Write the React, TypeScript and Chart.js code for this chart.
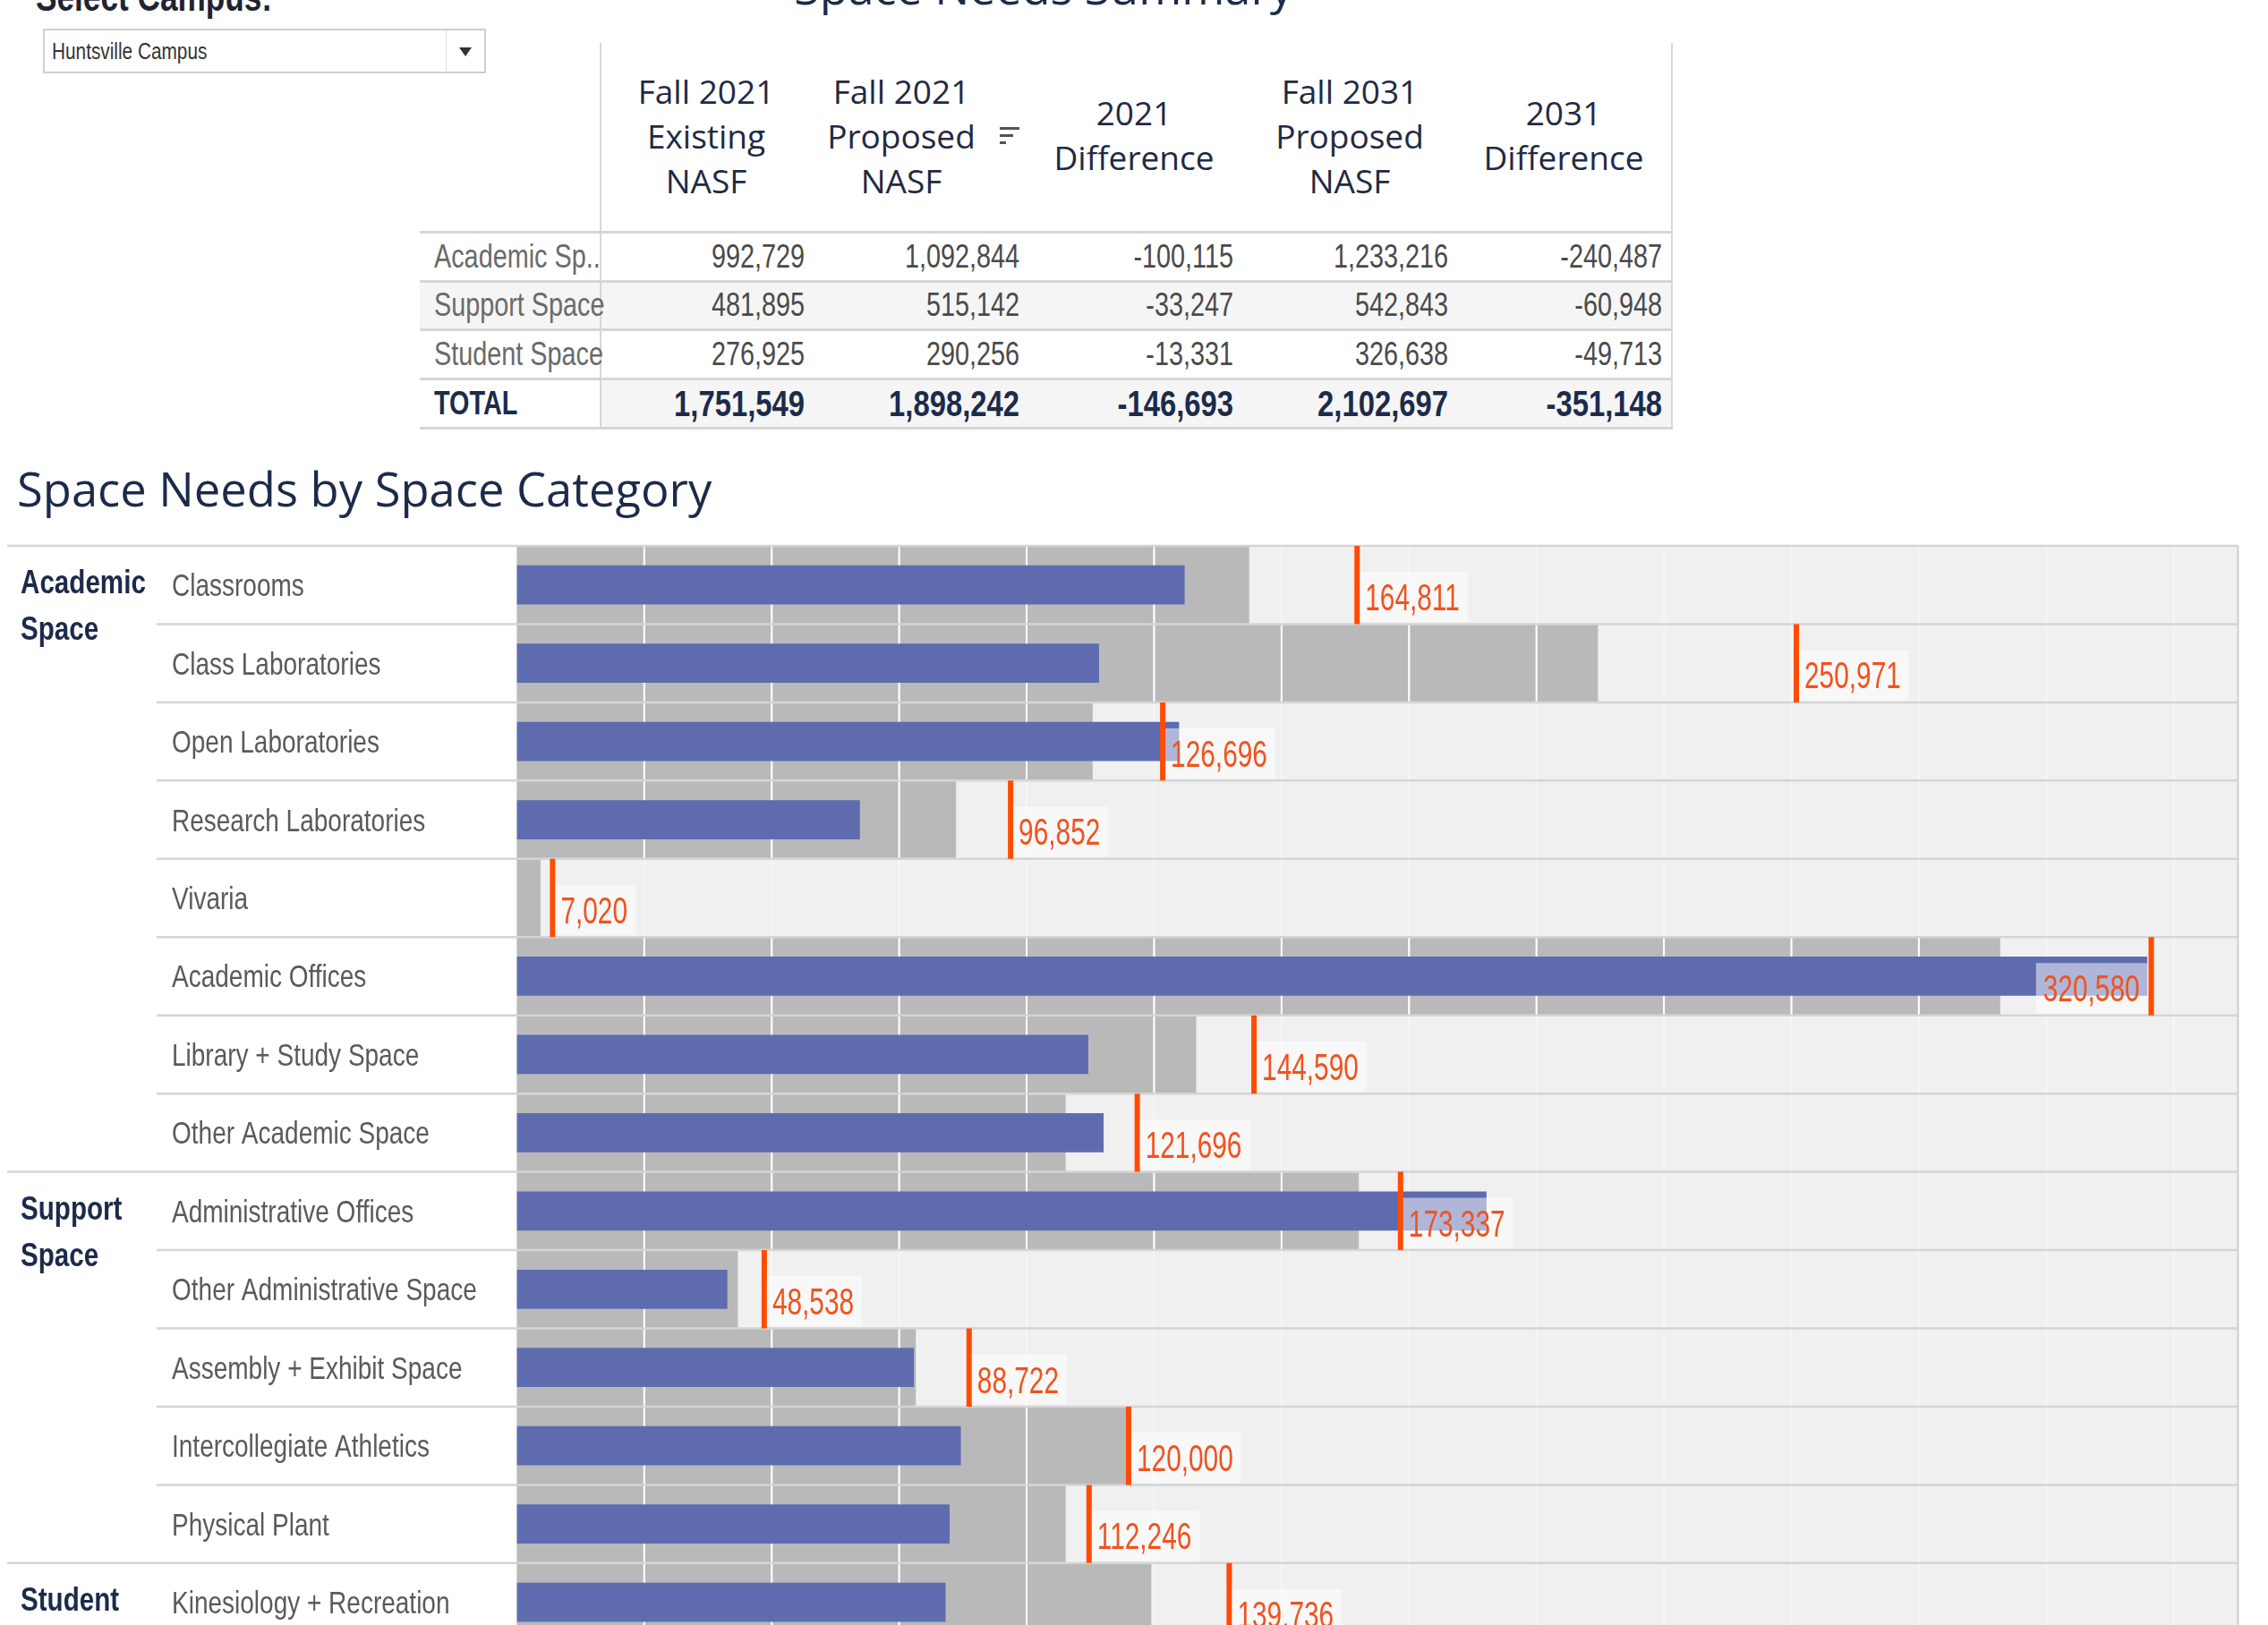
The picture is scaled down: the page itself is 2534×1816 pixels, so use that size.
import React, { useEffect, useRef } from 'react';
import { Chart, registerables } from 'chart.js';

Chart.register(...registerables);

// ---------- Summary table ----------
const summaryLabels = ['Academic Sp..', 'Support Space', 'Student Space'];
const summaryHeaders = [
  ['Fall 2021', 'Existing', 'NASF'],
  ['Fall 2021', 'Proposed', 'NASF'],
  ['2021', 'Difference'],
  ['Fall 2031', 'Proposed', 'NASF'],
  ['2031', 'Difference'],
];
const existing2021Nasf = [992729, 481895, 276925];
const proposed2021Nasf = [1092844, 515142, 290256];
const difference2021 = [-100115, -33247, -13331];
const proposed2031Nasf = [1233216, 542843, 326638];
const difference2031 = [-240487, -60948, -49713];

// ---------- Space category bullet chart ----------
const categories = [
  'Classrooms',
  'Class Laboratories',
  'Open Laboratories',
  'Research Laboratories',
  'Vivaria',
  'Academic Offices',
  'Library + Study Space',
  'Other Academic Space',
  'Administrative Offices',
  'Other Administrative Space',
  'Assembly + Exhibit Space',
  'Intercollegiate Athletics',
  'Physical Plant',
  'Kinesiology + Recreation',
];
const categoryGroups = [
  'Academic Space', 'Academic Space', 'Academic Space', 'Academic Space',
  'Academic Space', 'Academic Space', 'Academic Space', 'Academic Space',
  'Support Space', 'Support Space', 'Support Space', 'Support Space', 'Support Space',
  'Student Space',
];
// Fall 2021 existing NASF (blue bars)
const existingNasf = [131000, 114200, 129900, 67300, 0, 319800, 112100, 115100, 190200, 41300, 77900, 87100, 84900, 84100];
// Fall 2021 proposed NASF (gray bands)
const proposedNasf2021 = [143600, 212000, 112900, 86100, 4600, 290900, 133200, 107600, 165100, 43300, 78200, 119500, 107600, 124400];
// Fall 2031 proposed NASF (orange markers)
const proposedNasf2031 = [164811, 250971, 126696, 96852, 7020, 320580, 144590, 121696, 173337, 48538, 88722, 120000, 112246, 139736];
const axisMax = 337600;
const gridStep = 25000;

// ---------- styling ----------
const SANS = '"Liberation Sans", Arial, sans-serif';
const OPEN = '"Open Sans", sans-serif';
const NARROW_X = 0.8; // horizontal squeeze giving a condensed face
const NAVY = '#1c2b4a';
const BLUE = '#5e6caf';
const BAND = '#b9b9b9';
const PLOT_BG = '#f0f0f0';
const MARK = '#ff4b00';
const MARK_TEXT = '#f0531f';
const RULE = '#d5d5d5';

const ROW_H = 87.45;
const PAD = 56; // room for the marker overflow Chart.js reserves
const PLOT_Y = 610; // page y of the first row's top edge
const CANVAS_TOP = PLOT_Y - PAD;
const CANVAS_W = 2560;
const PLOT_LEFT = 577.4;
const PLOT_RIGHT = 2500.5;
const CANVAS_H = Math.ceil(PAD + ROW_H * categories.length + PAD);

const fmt = (v: number) => v.toLocaleString('en-US');
const sum = (a: number[]) => a.reduce((s, v) => s + v, 0);

function squeezedText(ctx: CanvasRenderingContext2D, text: string, x: number, y: number, sx: number) {
  ctx.save();
  ctx.translate(x, y);
  ctx.scale(sx, 1);
  ctx.fillText(text, 0, 0);
  ctx.restore();
}

const bulletDecor = {
  id: 'bulletDecor',
  beforeDatasetsDraw(chart: any) {
    const { ctx, chartArea: a } = chart;
    ctx.save();
    ctx.fillStyle = PLOT_BG;
    ctx.fillRect(a.left, a.top, a.right - a.left, a.bottom - a.top);
    ctx.restore();
  },
  beforeDatasetDraw(chart: any, args: any) {
    if (args.index !== 1) return;
    const { ctx, chartArea: a, scales } = chart;
    const xs = scales.x;
    const bands = chart.getDatasetMeta(0).data;
    ctx.save();
    ctx.lineWidth = 2;
    for (let v = gridStep; v < axisMax; v += gridStep) {
      const px = xs.getPixelForValue(v);
      // faint gridline across the light background
      ctx.strokeStyle = 'rgba(255,255,255,0.4)';
      ctx.beginPath();
      ctx.moveTo(px, a.top);
      ctx.lineTo(px, a.bottom);
      ctx.stroke();
      // crisp white gridline where it crosses a gray band
      ctx.strokeStyle = '#ffffff';
      bands.forEach((bar: any) => {
        const { x, y, height } = bar.getProps(['x', 'y', 'height'], true);
        if (px < x) {
          ctx.beginPath();
          ctx.moveTo(px, y - height / 2);
          ctx.lineTo(px, y + height / 2);
          ctx.stroke();
        }
      });
    }
    // row and group separators
    const n = categories.length;
    const rowH = (a.bottom - a.top) / n;
    ctx.strokeStyle = RULE;
    ctx.lineWidth = 2.5;
    for (let k = 0; k <= n; k++) {
      const y = a.top + k * rowH;
      const groupStart = k === 0 || (k < n && categoryGroups[k] !== categoryGroups[k - 1]);
      ctx.beginPath();
      ctx.moveTo(groupStart ? 8 : 175, y);
      ctx.lineTo(a.right, y);
      ctx.stroke();
    }
    ctx.restore();
  },
  afterDatasetsDraw(chart: any) {
    const { ctx, chartArea: a } = chart;
    const n = categories.length;
    const rowH = (a.bottom - a.top) / n;
    ctx.save();

    // right border
    ctx.strokeStyle = '#cdcdcd';
    ctx.lineWidth = 2;
    ctx.beginPath();
    ctx.moveTo(a.right, a.top);
    ctx.lineTo(a.right, a.bottom);
    ctx.stroke();

    // value labels next to the 2031 markers
    const meta = chart.getDatasetMeta(2);
    const sx = 0.71;
    ctx.font = `42px ${SANS}`;
    ctx.textBaseline = 'alphabetic';
    ctx.textAlign = 'left';
    meta.data.forEach((pt: any, i: number) => {
      const text = fmt(proposedNasf2031[i]);
      const w = ctx.measureText(text).width * sx;
      const rowTop = pt.y - rowH / 2;
      const boxTop = rowTop + 29;
      const boxBottom = rowTop + rowH - 2;
      let boxL: number, boxR: number, textX: number;
      if (pt.x + 9 + w + 9 <= a.right) {
        boxL = pt.x + 3;
        boxR = pt.x + 9 + w + 9;
        textX = pt.x + 9;
      } else {
        boxR = pt.x - 4;
        boxL = boxR - w - 17;
        textX = boxL + 8;
      }
      ctx.fillStyle = 'rgba(255,255,255,0.5)';
      ctx.fillRect(boxL, boxTop, boxR - boxL, boxBottom - boxTop);
      ctx.fillStyle = MARK_TEXT;
      squeezedText(ctx, text, textX, rowTop + 72, sx);
    });

    // row labels
    ctx.font = `35px ${SANS}`;
    ctx.fillStyle = '#5a5a5a';
    categories.forEach((c, i) => {
      const cy = a.top + (i + 0.5) * rowH;
      squeezedText(ctx, c, 192, cy + 12.5, NARROW_X);
    });

    // group labels
    ctx.font = `bold 37px ${SANS}`;
    ctx.fillStyle = NAVY;
    categoryGroups.forEach((g, i) => {
      if (i > 0 && categoryGroups[i - 1] === g) return;
      const rowTop = a.top + i * rowH;
      g.split(' ').forEach((word, j) => {
        squeezedText(ctx, word, 23, rowTop + 40 + j * 52 + 13, NARROW_X);
      });
    });
    ctx.restore();
  },
};

type TextProps = {
  x: number;
  y: number;
  text: string;
  font: string;
  color: string;
  align?: 'left' | 'center' | 'right';
  sx?: number;
};

function Txt({ x, y, text, font, color, align = 'left', sx = 1 }: TextProps) {
  const tx = align === 'left' ? '0' : align === 'center' ? '-50%' : '-100%';
  const origin = align === 'left' ? 'left center' : align === 'center' ? 'center center' : 'right center';
  return (
    <div
      style={{
        position: 'absolute',
        left: x,
        top: y,
        font,
        color,
        lineHeight: 1,
        whiteSpace: 'nowrap',
        transform: `translate(${tx}, -50%) scaleX(${sx})`,
        transformOrigin: origin,
      }}
    >
      {text}
    </div>
  );
}

function Rect({ x, y, w, h, color }: { x: number; y: number; w: number; h: number; color: string }) {
  return <div style={{ position: 'absolute', left: x, top: y, width: w, height: h, background: color }} />;
}

function SummaryTable() {
  const columns = [existing2021Nasf, proposed2021Nasf, difference2021, proposed2031Nasf, difference2031];
  const colLeft = 671;
  const colRight = 1868;
  const colW = (colRight - colLeft) / columns.length;
  const headerCenters = [789, 1007, 1267, 1508, 1747];
  const rowEdges = [259, 314, 368, 423, 478];
  const rowCenter = (r: number) => (rowEdges[r] + rowEdges[r + 1]) / 2;
  const items: React.ReactNode[] = [];

  items.push(<Rect key="bg-support" x={469} y={314} w={colRight - 469} h={54} color="#f5f5f5" />);
  items.push(<Rect key="bg-total" x={colLeft} y={423} w={colRight - colLeft} h={55} color="#f5f5f5" />);
  items.push(<Rect key="vl" x={colLeft - 1} y={48} w={2} h={430} color="#d6d6d6" />);
  items.push(<Rect key="vr" x={colRight - 1} y={48} w={2} h={430} color="#d6d6d6" />);
  rowEdges.forEach((y, k) => items.push(<Rect key={`hl${k}`} x={469} y={y - 1} w={colRight - 469 + 1} h={3} color="#d6d6d6" />));

  summaryHeaders.forEach((lines, c) => {
    const top = lines.length === 3 ? 101 : 125;
    lines.forEach((ln, j) =>
      items.push(
        <Txt key={`h${c}-${j}`} x={headerCenters[c]} y={top + j * 50} text={ln} font={`37px ${OPEN}`} color="#1f2a44" align="center" />
      )
    );
  });
  // sort indicator beside the proposed column header
  items.push(<Rect key="s1" x={1117} y={142} w={22} h={3} color="#555" />);
  items.push(<Rect key="s2" x={1117} y={150} w={15} h={3} color="#555" />);
  items.push(<Rect key="s3" x={1117} y={158} w={7} h={3} color="#555" />);

  summaryLabels.forEach((lab, r) => {
    items.push(<Txt key={`l${r}`} x={485} y={rowCenter(r)} text={lab} font={`36px ${SANS}`} color="#6a6a6a" sx={NARROW_X} />);
    columns.forEach((col, c) =>
      items.push(
        <Txt key={`v${r}-${c}`} x={colLeft + (c + 1) * colW - 11} y={rowCenter(r)} text={fmt(col[r])} font={`36px ${SANS}`} color="#4a4a4a" align="right" sx={NARROW_X} />
      )
    );
  });
  items.push(<Txt key="tl" x={485} y={rowCenter(3)} text="TOTAL" font={`bold 36px ${SANS}`} color={NAVY} sx={NARROW_X} />);
  columns.forEach((col, c) =>
    items.push(
      <Txt key={`t${c}`} x={colLeft + (c + 1) * colW - 11} y={rowCenter(3)} text={fmt(sum(col))} font={`bold 41px ${SANS}`} color={NAVY} align="right" sx={NARROW_X} />
    )
  );
  return <>{items}</>;
}

export default function App() {
  const canvasRef = useRef<HTMLCanvasElement | null>(null);

  useEffect(() => {
    const canvas = canvasRef.current;
    if (!canvas) return;
    const chart = new Chart(canvas, {
      type: 'bar',
      data: {
        labels: categories,
        datasets: [
          {
            type: 'bar',
            label: 'Fall 2021 Proposed NASF',
            data: proposedNasf2021,
            backgroundColor: BAND,
            barPercentage: 1,
            categoryPercentage: 1,
            grouped: false,
            order: 3,
          } as any,
          {
            type: 'bar',
            label: 'Fall 2021 Existing NASF',
            data: existingNasf,
            backgroundColor: BLUE,
            barPercentage: 0.5,
            categoryPercentage: 1,
            grouped: false,
            order: 2,
          } as any,
          {
            type: 'scatter',
            label: 'Fall 2031 Proposed NASF',
            data: categories.map((c, i) => ({ x: proposedNasf2031[i], y: c })),
            pointStyle: 'line',
            pointRotation: 90,
            pointRadius: ROW_H / 2,
            pointHoverRadius: ROW_H / 2,
            pointBorderWidth: 6,
            pointBorderColor: MARK,
            pointBackgroundColor: MARK,
            borderColor: MARK,
            showLine: false,
            order: 1,
          } as any,
        ],
      },
      options: {
        indexAxis: 'y',
        animation: false,
        responsive: false,
        maintainAspectRatio: false,
        events: [],
        layout: {
          padding: {
            left: PLOT_LEFT,
            right: CANVAS_W - PLOT_RIGHT,
            top: PAD,
            bottom: CANVAS_H - PAD - ROW_H * categories.length,
          },
        },
        scales: {
          x: { type: 'linear', min: 0, max: axisMax, display: false },
          y: { type: 'category', display: false, offset: true },
        },
        plugins: {
          legend: { display: false },
          tooltip: { enabled: false },
        },
      } as any,
      plugins: [bulletDecor],
    });
    return () => chart.destroy();
  }, []);

  return (
    <div
      style={{
        position: 'absolute',
        left: 0,
        top: 0,
        width: 2534,
        height: 1816,
        overflow: 'hidden',
        background: '#ffffff',
      }}
    >
      {/* campus selector */}
      <div
        style={{
          position: 'absolute',
          left: 40,
          top: 13 - 0.86 * 44,
          font: `bold 44px ${SANS}`,
          lineHeight: 1,
          color: '#1e2433',
          whiteSpace: 'nowrap',
          transform: `scaleX(${NARROW_X})`,
          transformOrigin: 'left center',
        }}
      >
        Select Campus:
      </div>
      <div
        style={{
          position: 'absolute',
          left: 48,
          top: 32,
          width: 495,
          height: 50,
          boxSizing: 'border-box',
          border: '2px solid #cfcfcf',
          background: '#ffffff',
        }}
      />
      <Rect x={498} y={34} w={1} h={46} color="#dddddd" />
      <Txt x={58} y={57} text="Huntsville Campus" font={`26px ${SANS}`} color="#333333" sx={NARROW_X} />
      <div
        style={{
          position: 'absolute',
          left: 513,
          top: 53,
          width: 0,
          height: 0,
          borderLeft: '7px solid transparent',
          borderRight: '7px solid transparent',
          borderTop: '10px solid #333333',
        }}
      />

      {/* summary title, table */}
      <div
        style={{
          position: 'absolute',
          left: 1166,
          top: 5 - 0.89 * 52,
          transform: 'translateX(-50%)',
          font: `52px ${OPEN}`,
          lineHeight: 1,
          color: NAVY,
          whiteSpace: 'nowrap',
        }}
      >
        Space Needs Summary
      </div>
      <SummaryTable />

      {/* category chart */}
      <Txt x={19} y={546} text="Space Needs by Space Category" font={`52.5px ${OPEN}`} color={NAVY} />
      <canvas
        ref={canvasRef}
        width={CANVAS_W}
        height={CANVAS_H}
        style={{ position: 'absolute', left: 0, top: CANVAS_TOP, width: CANVAS_W, height: CANVAS_H }}
      />
    </div>
  );
}
